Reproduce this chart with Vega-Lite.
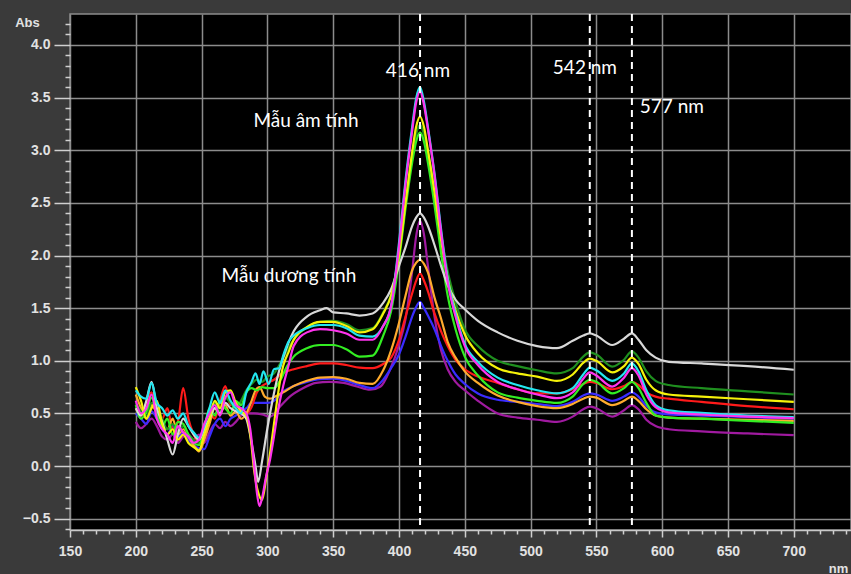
{
"$schema": "https://vega.github.io/schema/vega-lite/v6.json",
"width": 781, "height": 516,
"autosize": {"type": "none"},
"padding": {"left": 70, "top": 14, "right": 0, "bottom": 44},
"background": "#3a3a3a",
"config": {"view": {"fill": "#000000", "stroke": "#8c8c8c", "strokeWidth": 1.5}},
"layer": [
{
"data": {"values": [
{"s":"P","x":200,"y":0.42},{"s":"P","x":204,"y":0.36},{"s":"P","x":208,"y":0.40},{"s":"P","x":212,"y":0.45},{"s":"P","x":216,"y":0.38},{"s":"P","x":220,"y":0.28},{"s":"P","x":224,"y":0.25},{"s":"P","x":228,"y":0.30},{"s":"P","x":232,"y":0.22},{"s":"P","x":236,"y":0.28},{"s":"P","x":240,"y":0.30},{"s":"P","x":244,"y":0.25},{"s":"P","x":248,"y":0.30},{"s":"P","x":252,"y":0.22},{"s":"P","x":256,"y":0.32},{"s":"P","x":260,"y":0.40},{"s":"P","x":264,"y":0.36},{"s":"P","x":268,"y":0.42},{"s":"P","x":272,"y":0.38},{"s":"P","x":276,"y":0.42},{"s":"P","x":280,"y":0.48},{"s":"P","x":284,"y":0.50},{"s":"P","x":290,"y":0.50},{"s":"P","x":296,"y":0.49},{"s":"P","x":302,"y":0.47},{"s":"P","x":310,"y":0.57},{"s":"P","x":317,"y":0.66},{"s":"P","x":327,"y":0.74},{"s":"P","x":337,"y":0.79},{"s":"P","x":347,"y":0.80},{"s":"P","x":358,"y":0.79},{"s":"P","x":368,"y":0.756},{"s":"P","x":378,"y":0.725},{"s":"P","x":386,"y":0.756},{"s":"P","x":393,"y":0.91},{"s":"P","x":400,"y":1.15},{"s":"P","x":405,"y":1.40},{"s":"P","x":410,"y":1.85},{"s":"P","x":413,"y":2.18},{"s":"P","x":416,"y":2.33},{"s":"P","x":419,"y":2.20},{"s":"P","x":422,"y":1.90},{"s":"P","x":427,"y":1.42},{"s":"P","x":432,"y":1.10},{"s":"P","x":437,"y":0.92},{"s":"P","x":443,"y":0.80},{"s":"P","x":450,"y":0.72},{"s":"P","x":460,"y":0.62},{"s":"P","x":475,"y":0.50},{"s":"P","x":490,"y":0.46},{"s":"P","x":505,"y":0.44},{"s":"P","x":520,"y":0.42},{"s":"P","x":532,"y":0.47},{"s":"P","x":540,"y":0.54},{"s":"P","x":545,"y":0.565},{"s":"P","x":550,"y":0.55},{"s":"P","x":562,"y":0.47},{"s":"P","x":571,"y":0.53},{"s":"P","x":577,"y":0.58},{"s":"P","x":582,"y":0.54},{"s":"P","x":588,"y":0.44},{"s":"P","x":595,"y":0.38},{"s":"P","x":605,"y":0.35},{"s":"P","x":630,"y":0.33},{"s":"P","x":665,"y":0.31},{"s":"P","x":700,"y":0.294},
{"s":"B","x":200,"y":0.50},{"s":"B","x":204,"y":0.45},{"s":"B","x":208,"y":0.40},{"s":"B","x":212,"y":0.52},{"s":"B","x":216,"y":0.45},{"s":"B","x":220,"y":0.35},{"s":"B","x":224,"y":0.30},{"s":"B","x":228,"y":0.38},{"s":"B","x":232,"y":0.28},{"s":"B","x":236,"y":0.32},{"s":"B","x":240,"y":0.25},{"s":"B","x":244,"y":0.20},{"s":"B","x":248,"y":0.17},{"s":"B","x":252,"y":0.16},{"s":"B","x":256,"y":0.28},{"s":"B","x":260,"y":0.40},{"s":"B","x":264,"y":0.45},{"s":"B","x":268,"y":0.38},{"s":"B","x":272,"y":0.45},{"s":"B","x":276,"y":0.48},{"s":"B","x":280,"y":0.52},{"s":"B","x":284,"y":0.55},{"s":"B","x":288,"y":0.60},{"s":"B","x":292,"y":0.60},{"s":"B","x":296,"y":0.60},{"s":"B","x":300,"y":0.60},{"s":"B","x":305,"y":0.62},{"s":"B","x":312,"y":0.71},{"s":"B","x":320,"y":0.76},{"s":"B","x":330,"y":0.80},{"s":"B","x":340,"y":0.825},{"s":"B","x":350,"y":0.83},{"s":"B","x":360,"y":0.81},{"s":"B","x":370,"y":0.77},{"s":"B","x":380,"y":0.74},{"s":"B","x":388,"y":0.82},{"s":"B","x":394,"y":0.93},{"s":"B","x":400,"y":1.06},{"s":"B","x":405,"y":1.23},{"s":"B","x":410,"y":1.42},{"s":"B","x":413,"y":1.51},{"s":"B","x":416,"y":1.56},{"s":"B","x":419,"y":1.50},{"s":"B","x":422,"y":1.43},{"s":"B","x":427,"y":1.30},{"s":"B","x":432,"y":1.14},{"s":"B","x":437,"y":1.00},{"s":"B","x":443,"y":0.87},{"s":"B","x":450,"y":0.78},{"s":"B","x":460,"y":0.69},{"s":"B","x":475,"y":0.63},{"s":"B","x":490,"y":0.61},{"s":"B","x":505,"y":0.59},{"s":"B","x":520,"y":0.57},{"s":"B","x":532,"y":0.61},{"s":"B","x":540,"y":0.67},{"s":"B","x":545,"y":0.69},{"s":"B","x":550,"y":0.68},{"s":"B","x":562,"y":0.62},{"s":"B","x":571,"y":0.66},{"s":"B","x":577,"y":0.70},{"s":"B","x":582,"y":0.66},{"s":"B","x":588,"y":0.57},{"s":"B","x":595,"y":0.51},{"s":"B","x":605,"y":0.49},{"s":"B","x":630,"y":0.48},{"s":"B","x":665,"y":0.465},{"s":"B","x":700,"y":0.45},
{"s":"R","x":200,"y":0.55},{"s":"R","x":204,"y":0.48},{"s":"R","x":208,"y":0.60},{"s":"R","x":212,"y":0.70},{"s":"R","x":216,"y":0.50},{"s":"R","x":220,"y":0.45},{"s":"R","x":224,"y":0.55},{"s":"R","x":228,"y":0.35},{"s":"R","x":232,"y":0.42},{"s":"R","x":236,"y":0.74},{"s":"R","x":240,"y":0.45},{"s":"R","x":244,"y":0.30},{"s":"R","x":248,"y":0.22},{"s":"R","x":252,"y":0.30},{"s":"R","x":256,"y":0.50},{"s":"R","x":260,"y":0.45},{"s":"R","x":264,"y":0.62},{"s":"R","x":268,"y":0.76},{"s":"R","x":272,"y":0.58},{"s":"R","x":276,"y":0.60},{"s":"R","x":280,"y":0.52},{"s":"R","x":284,"y":0.50},{"s":"R","x":288,"y":0.56},{"s":"R","x":292,"y":0.70},{"s":"R","x":296,"y":0.76},{"s":"R","x":300,"y":0.79},{"s":"R","x":305,"y":0.82},{"s":"R","x":310,"y":0.87},{"s":"R","x":315,"y":0.90},{"s":"R","x":320,"y":0.92},{"s":"R","x":330,"y":0.95},{"s":"R","x":340,"y":0.975},{"s":"R","x":350,"y":0.975},{"s":"R","x":360,"y":0.96},{"s":"R","x":370,"y":0.935},{"s":"R","x":380,"y":0.93},{"s":"R","x":388,"y":0.97},{"s":"R","x":394,"y":1.03},{"s":"R","x":400,"y":1.20},{"s":"R","x":405,"y":1.42},{"s":"R","x":410,"y":1.64},{"s":"R","x":413,"y":1.76},{"s":"R","x":416,"y":1.83},{"s":"R","x":419,"y":1.76},{"s":"R","x":422,"y":1.66},{"s":"R","x":427,"y":1.45},{"s":"R","x":432,"y":1.28},{"s":"R","x":437,"y":1.14},{"s":"R","x":443,"y":1.01},{"s":"R","x":450,"y":0.92},{"s":"R","x":460,"y":0.85},{"s":"R","x":475,"y":0.79},{"s":"R","x":490,"y":0.73},{"s":"R","x":505,"y":0.69},{"s":"R","x":520,"y":0.69},{"s":"R","x":532,"y":0.73},{"s":"R","x":540,"y":0.78},{"s":"R","x":545,"y":0.80},{"s":"R","x":550,"y":0.79},{"s":"R","x":562,"y":0.73},{"s":"R","x":571,"y":0.76},{"s":"R","x":577,"y":0.80},{"s":"R","x":582,"y":0.77},{"s":"R","x":588,"y":0.70},{"s":"R","x":595,"y":0.66},{"s":"R","x":605,"y":0.64},{"s":"R","x":630,"y":0.61},{"s":"R","x":665,"y":0.57},{"s":"R","x":700,"y":0.54},
{"s":"O","x":200,"y":0.68},{"s":"O","x":204,"y":0.55},{"s":"O","x":208,"y":0.45},{"s":"O","x":212,"y":0.58},{"s":"O","x":216,"y":0.50},{"s":"O","x":220,"y":0.40},{"s":"O","x":224,"y":0.35},{"s":"O","x":228,"y":0.45},{"s":"O","x":232,"y":0.30},{"s":"O","x":236,"y":0.35},{"s":"O","x":240,"y":0.28},{"s":"O","x":244,"y":0.20},{"s":"O","x":248,"y":0.14},{"s":"O","x":252,"y":0.25},{"s":"O","x":256,"y":0.40},{"s":"O","x":260,"y":0.55},{"s":"O","x":264,"y":0.50},{"s":"O","x":268,"y":0.58},{"s":"O","x":272,"y":0.48},{"s":"O","x":276,"y":0.52},{"s":"O","x":280,"y":0.45},{"s":"O","x":284,"y":0.50},{"s":"O","x":288,"y":0.62},{"s":"O","x":291,"y":0.72},{"s":"O","x":294,"y":0.75},{"s":"O","x":298,"y":0.66},{"s":"O","x":302,"y":0.64},{"s":"O","x":306,"y":0.66},{"s":"O","x":312,"y":0.70},{"s":"O","x":320,"y":0.76},{"s":"O","x":330,"y":0.81},{"s":"O","x":340,"y":0.84},{"s":"O","x":350,"y":0.845},{"s":"O","x":360,"y":0.83},{"s":"O","x":370,"y":0.79},{"s":"O","x":380,"y":0.78},{"s":"O","x":388,"y":0.91},{"s":"O","x":394,"y":1.10},{"s":"O","x":400,"y":1.36},{"s":"O","x":405,"y":1.62},{"s":"O","x":410,"y":1.86},{"s":"O","x":413,"y":1.93},{"s":"O","x":416,"y":1.96},{"s":"O","x":419,"y":1.92},{"s":"O","x":422,"y":1.84},{"s":"O","x":427,"y":1.60},{"s":"O","x":432,"y":1.40},{"s":"O","x":437,"y":1.18},{"s":"O","x":443,"y":1.03},{"s":"O","x":450,"y":0.90},{"s":"O","x":460,"y":0.79},{"s":"O","x":475,"y":0.67},{"s":"O","x":490,"y":0.61},{"s":"O","x":505,"y":0.57},{"s":"O","x":520,"y":0.55},{"s":"O","x":532,"y":0.59},{"s":"O","x":540,"y":0.64},{"s":"O","x":545,"y":0.66},{"s":"O","x":550,"y":0.65},{"s":"O","x":562,"y":0.58},{"s":"O","x":571,"y":0.62},{"s":"O","x":577,"y":0.66},{"s":"O","x":582,"y":0.62},{"s":"O","x":588,"y":0.54},{"s":"O","x":595,"y":0.48},{"s":"O","x":605,"y":0.46},{"s":"O","x":630,"y":0.45},{"s":"O","x":665,"y":0.44},{"s":"O","x":700,"y":0.43},
{"s":"D","x":200,"y":0.60},{"s":"D","x":204,"y":0.52},{"s":"D","x":208,"y":0.48},{"s":"D","x":212,"y":0.60},{"s":"D","x":216,"y":0.55},{"s":"D","x":220,"y":0.45},{"s":"D","x":224,"y":0.35},{"s":"D","x":228,"y":0.40},{"s":"D","x":232,"y":0.32},{"s":"D","x":236,"y":0.38},{"s":"D","x":240,"y":0.30},{"s":"D","x":244,"y":0.25},{"s":"D","x":248,"y":0.22},{"s":"D","x":252,"y":0.32},{"s":"D","x":256,"y":0.50},{"s":"D","x":260,"y":0.60},{"s":"D","x":264,"y":0.52},{"s":"D","x":268,"y":0.65},{"s":"D","x":272,"y":0.60},{"s":"D","x":276,"y":0.55},{"s":"D","x":280,"y":0.62},{"s":"D","x":284,"y":0.72},{"s":"D","x":288,"y":0.78},{"s":"D","x":292,"y":0.82},{"s":"D","x":296,"y":0.80},{"s":"D","x":300,"y":0.85},{"s":"D","x":305,"y":0.88},{"s":"D","x":310,"y":0.98},{"s":"D","x":315,"y":1.10},{"s":"D","x":320,"y":1.20},{"s":"D","x":330,"y":1.32},{"s":"D","x":340,"y":1.37},{"s":"D","x":350,"y":1.38},{"s":"D","x":360,"y":1.35},{"s":"D","x":370,"y":1.29},{"s":"D","x":380,"y":1.31},{"s":"D","x":388,"y":1.46},{"s":"D","x":394,"y":1.63},{"s":"D","x":400,"y":2.02},{"s":"D","x":405,"y":2.50},{"s":"D","x":410,"y":2.95},{"s":"D","x":413,"y":3.15},{"s":"D","x":416,"y":3.24},{"s":"D","x":419,"y":3.15},{"s":"D","x":422,"y":2.98},{"s":"D","x":427,"y":2.62},{"s":"D","x":432,"y":2.20},{"s":"D","x":437,"y":1.85},{"s":"D","x":443,"y":1.56},{"s":"D","x":450,"y":1.30},{"s":"D","x":460,"y":1.14},{"s":"D","x":475,"y":1.00},{"s":"D","x":490,"y":0.95},{"s":"D","x":505,"y":0.91},{"s":"D","x":520,"y":0.88},{"s":"D","x":532,"y":0.93},{"s":"D","x":540,"y":1.04},{"s":"D","x":545,"y":1.08},{"s":"D","x":550,"y":1.06},{"s":"D","x":562,"y":0.945},{"s":"D","x":571,"y":1.01},{"s":"D","x":577,"y":1.09},{"s":"D","x":582,"y":1.03},{"s":"D","x":588,"y":0.90},{"s":"D","x":595,"y":0.81},{"s":"D","x":605,"y":0.77},{"s":"D","x":630,"y":0.74},{"s":"D","x":665,"y":0.71},{"s":"D","x":700,"y":0.68},
{"s":"G","x":200,"y":0.58},{"s":"G","x":204,"y":0.45},{"s":"G","x":208,"y":0.52},{"s":"G","x":212,"y":0.65},{"s":"G","x":216,"y":0.50},{"s":"G","x":220,"y":0.38},{"s":"G","x":224,"y":0.45},{"s":"G","x":228,"y":0.30},{"s":"G","x":232,"y":0.42},{"s":"G","x":236,"y":0.40},{"s":"G","x":240,"y":0.30},{"s":"G","x":244,"y":0.22},{"s":"G","x":248,"y":0.20},{"s":"G","x":252,"y":0.35},{"s":"G","x":256,"y":0.55},{"s":"G","x":260,"y":0.48},{"s":"G","x":264,"y":0.62},{"s":"G","x":268,"y":0.55},{"s":"G","x":272,"y":0.50},{"s":"G","x":276,"y":0.62},{"s":"G","x":280,"y":0.58},{"s":"G","x":284,"y":0.70},{"s":"G","x":288,"y":0.74},{"s":"G","x":292,"y":0.72},{"s":"G","x":296,"y":0.75},{"s":"G","x":300,"y":0.74},{"s":"G","x":305,"y":0.74},{"s":"G","x":310,"y":0.82},{"s":"G","x":315,"y":0.95},{"s":"G","x":320,"y":1.04},{"s":"G","x":330,"y":1.12},{"s":"G","x":340,"y":1.15},{"s":"G","x":350,"y":1.15},{"s":"G","x":360,"y":1.11},{"s":"G","x":370,"y":1.04},{"s":"G","x":380,"y":1.05},{"s":"G","x":388,"y":1.24},{"s":"G","x":394,"y":1.47},{"s":"G","x":400,"y":1.95},{"s":"G","x":405,"y":2.45},{"s":"G","x":410,"y":2.88},{"s":"G","x":413,"y":3.08},{"s":"G","x":416,"y":3.17},{"s":"G","x":419,"y":3.08},{"s":"G","x":422,"y":2.88},{"s":"G","x":427,"y":2.48},{"s":"G","x":432,"y":2.02},{"s":"G","x":437,"y":1.62},{"s":"G","x":443,"y":1.30},{"s":"G","x":450,"y":1.04},{"s":"G","x":460,"y":0.86},{"s":"G","x":475,"y":0.70},{"s":"G","x":490,"y":0.65},{"s":"G","x":505,"y":0.62},{"s":"G","x":520,"y":0.60},{"s":"G","x":532,"y":0.66},{"s":"G","x":540,"y":0.78},{"s":"G","x":545,"y":0.82},{"s":"G","x":550,"y":0.80},{"s":"G","x":562,"y":0.69},{"s":"G","x":571,"y":0.74},{"s":"G","x":577,"y":0.80},{"s":"G","x":582,"y":0.74},{"s":"G","x":588,"y":0.60},{"s":"G","x":595,"y":0.48},{"s":"G","x":605,"y":0.46},{"s":"G","x":630,"y":0.45},{"s":"G","x":665,"y":0.43},{"s":"G","x":700,"y":0.41},
{"s":"W","x":200,"y":0.55},{"s":"W","x":204,"y":0.48},{"s":"W","x":208,"y":0.62},{"s":"W","x":212,"y":0.80},{"s":"W","x":216,"y":0.55},{"s":"W","x":220,"y":0.42},{"s":"W","x":224,"y":0.25},{"s":"W","x":228,"y":0.11},{"s":"W","x":232,"y":0.30},{"s":"W","x":236,"y":0.45},{"s":"W","x":240,"y":0.38},{"s":"W","x":244,"y":0.30},{"s":"W","x":248,"y":0.25},{"s":"W","x":252,"y":0.35},{"s":"W","x":256,"y":0.45},{"s":"W","x":260,"y":0.55},{"s":"W","x":264,"y":0.50},{"s":"W","x":268,"y":0.60},{"s":"W","x":272,"y":0.55},{"s":"W","x":276,"y":0.52},{"s":"W","x":280,"y":0.50},{"s":"W","x":284,"y":0.45},{"s":"W","x":288,"y":0.22},{"s":"W","x":291,"y":0.0},{"s":"W","x":293,"y":-0.15},{"s":"W","x":296,"y":0.05},{"s":"W","x":300,"y":0.36},{"s":"W","x":304,"y":0.63},{"s":"W","x":308,"y":0.86},{"s":"W","x":312,"y":1.03},{"s":"W","x":316,"y":1.17},{"s":"W","x":320,"y":1.28},{"s":"W","x":330,"y":1.42},{"s":"W","x":340,"y":1.48},{"s":"W","x":345,"y":1.50},{"s":"W","x":350,"y":1.46},{"s":"W","x":360,"y":1.45},{"s":"W","x":370,"y":1.43},{"s":"W","x":380,"y":1.45},{"s":"W","x":388,"y":1.55},{"s":"W","x":394,"y":1.68},{"s":"W","x":400,"y":1.90},{"s":"W","x":405,"y":2.08},{"s":"W","x":410,"y":2.28},{"s":"W","x":413,"y":2.36},{"s":"W","x":416,"y":2.40},{"s":"W","x":419,"y":2.36},{"s":"W","x":422,"y":2.28},{"s":"W","x":427,"y":2.10},{"s":"W","x":432,"y":1.90},{"s":"W","x":437,"y":1.72},{"s":"W","x":443,"y":1.58},{"s":"W","x":450,"y":1.49},{"s":"W","x":460,"y":1.38},{"s":"W","x":475,"y":1.27},{"s":"W","x":490,"y":1.19},{"s":"W","x":505,"y":1.14},{"s":"W","x":520,"y":1.12},{"s":"W","x":532,"y":1.19},{"s":"W","x":540,"y":1.24},{"s":"W","x":545,"y":1.26},{"s":"W","x":550,"y":1.24},{"s":"W","x":562,"y":1.15},{"s":"W","x":571,"y":1.21},{"s":"W","x":577,"y":1.26},{"s":"W","x":582,"y":1.20},{"s":"W","x":588,"y":1.10},{"s":"W","x":595,"y":1.03},{"s":"W","x":605,"y":0.99},{"s":"W","x":630,"y":0.975},{"s":"W","x":665,"y":0.95},{"s":"W","x":700,"y":0.915},
{"s":"Y","x":200,"y":0.75},{"s":"Y","x":204,"y":0.62},{"s":"Y","x":208,"y":0.45},{"s":"Y","x":212,"y":0.55},{"s":"Y","x":216,"y":0.62},{"s":"Y","x":220,"y":0.40},{"s":"Y","x":224,"y":0.30},{"s":"Y","x":228,"y":0.35},{"s":"Y","x":232,"y":0.25},{"s":"Y","x":236,"y":0.30},{"s":"Y","x":240,"y":0.22},{"s":"Y","x":244,"y":0.18},{"s":"Y","x":248,"y":0.15},{"s":"Y","x":252,"y":0.30},{"s":"Y","x":256,"y":0.45},{"s":"Y","x":260,"y":0.62},{"s":"Y","x":264,"y":0.55},{"s":"Y","x":268,"y":0.70},{"s":"Y","x":272,"y":0.72},{"s":"Y","x":276,"y":0.60},{"s":"Y","x":280,"y":0.52},{"s":"Y","x":284,"y":0.48},{"s":"Y","x":287,"y":0.30},{"s":"Y","x":290,"y":-0.05},{"s":"Y","x":293,"y":-0.25},{"s":"Y","x":296,"y":-0.32},{"s":"Y","x":299,"y":-0.12},{"s":"Y","x":302,"y":0.12},{"s":"Y","x":305,"y":0.40},{"s":"Y","x":309,"y":0.76},{"s":"Y","x":312,"y":0.95},{"s":"Y","x":316,"y":1.08},{"s":"Y","x":320,"y":1.20},{"s":"Y","x":330,"y":1.32},{"s":"Y","x":340,"y":1.37},{"s":"Y","x":350,"y":1.37},{"s":"Y","x":360,"y":1.33},{"s":"Y","x":370,"y":1.27},{"s":"Y","x":380,"y":1.30},{"s":"Y","x":388,"y":1.45},{"s":"Y","x":394,"y":1.62},{"s":"Y","x":400,"y":2.00},{"s":"Y","x":405,"y":2.50},{"s":"Y","x":410,"y":2.98},{"s":"Y","x":413,"y":3.22},{"s":"Y","x":416,"y":3.32},{"s":"Y","x":419,"y":3.22},{"s":"Y","x":422,"y":3.00},{"s":"Y","x":427,"y":2.60},{"s":"Y","x":432,"y":2.15},{"s":"Y","x":437,"y":1.78},{"s":"Y","x":443,"y":1.48},{"s":"Y","x":450,"y":1.25},{"s":"Y","x":460,"y":1.07},{"s":"Y","x":475,"y":0.93},{"s":"Y","x":490,"y":0.88},{"s":"Y","x":505,"y":0.85},{"s":"Y","x":520,"y":0.81},{"s":"Y","x":532,"y":0.87},{"s":"Y","x":540,"y":0.98},{"s":"Y","x":545,"y":1.02},{"s":"Y","x":550,"y":1.00},{"s":"Y","x":562,"y":0.89},{"s":"Y","x":571,"y":0.95},{"s":"Y","x":577,"y":1.03},{"s":"Y","x":582,"y":0.97},{"s":"Y","x":588,"y":0.82},{"s":"Y","x":595,"y":0.72},{"s":"Y","x":605,"y":0.68},{"s":"Y","x":630,"y":0.66},{"s":"Y","x":665,"y":0.635},{"s":"Y","x":700,"y":0.61},
{"s":"C","x":200,"y":0.72},{"s":"C","x":204,"y":0.66},{"s":"C","x":208,"y":0.64},{"s":"C","x":212,"y":0.79},{"s":"C","x":216,"y":0.60},{"s":"C","x":220,"y":0.55},{"s":"C","x":224,"y":0.48},{"s":"C","x":228,"y":0.53},{"s":"C","x":232,"y":0.45},{"s":"C","x":236,"y":0.50},{"s":"C","x":240,"y":0.38},{"s":"C","x":244,"y":0.32},{"s":"C","x":248,"y":0.27},{"s":"C","x":252,"y":0.38},{"s":"C","x":256,"y":0.55},{"s":"C","x":260,"y":0.70},{"s":"C","x":264,"y":0.60},{"s":"C","x":268,"y":0.72},{"s":"C","x":272,"y":0.62},{"s":"C","x":276,"y":0.55},{"s":"C","x":280,"y":0.50},{"s":"C","x":284,"y":0.70},{"s":"C","x":288,"y":0.80},{"s":"C","x":291,"y":0.88},{"s":"C","x":294,"y":0.78},{"s":"C","x":297,"y":0.90},{"s":"C","x":301,"y":0.78},{"s":"C","x":305,"y":0.92},{"s":"C","x":309,"y":0.93},{"s":"C","x":312,"y":1.05},{"s":"C","x":316,"y":1.18},{"s":"C","x":320,"y":1.24},{"s":"C","x":330,"y":1.31},{"s":"C","x":340,"y":1.34},{"s":"C","x":350,"y":1.34},{"s":"C","x":360,"y":1.31},{"s":"C","x":370,"y":1.24},{"s":"C","x":380,"y":1.23},{"s":"C","x":388,"y":1.33},{"s":"C","x":394,"y":1.52},{"s":"C","x":400,"y":2.12},{"s":"C","x":405,"y":2.72},{"s":"C","x":410,"y":3.22},{"s":"C","x":413,"y":3.49},{"s":"C","x":416,"y":3.60},{"s":"C","x":419,"y":3.46},{"s":"C","x":422,"y":3.22},{"s":"C","x":427,"y":2.78},{"s":"C","x":432,"y":2.25},{"s":"C","x":437,"y":1.78},{"s":"C","x":443,"y":1.45},{"s":"C","x":450,"y":1.16},{"s":"C","x":460,"y":0.99},{"s":"C","x":475,"y":0.84},{"s":"C","x":490,"y":0.77},{"s":"C","x":505,"y":0.72},{"s":"C","x":520,"y":0.69},{"s":"C","x":532,"y":0.74},{"s":"C","x":540,"y":0.87},{"s":"C","x":545,"y":0.935},{"s":"C","x":550,"y":0.91},{"s":"C","x":562,"y":0.81},{"s":"C","x":571,"y":0.88},{"s":"C","x":577,"y":0.975},{"s":"C","x":582,"y":0.90},{"s":"C","x":588,"y":0.72},{"s":"C","x":595,"y":0.58},{"s":"C","x":605,"y":0.53},{"s":"C","x":630,"y":0.505},{"s":"C","x":665,"y":0.48},{"s":"C","x":700,"y":0.465},
{"s":"M","x":200,"y":0.62},{"s":"M","x":204,"y":0.50},{"s":"M","x":208,"y":0.55},{"s":"M","x":212,"y":0.68},{"s":"M","x":216,"y":0.45},{"s":"M","x":220,"y":0.35},{"s":"M","x":224,"y":0.30},{"s":"M","x":228,"y":0.22},{"s":"M","x":232,"y":0.38},{"s":"M","x":236,"y":0.32},{"s":"M","x":240,"y":0.28},{"s":"M","x":244,"y":0.22},{"s":"M","x":248,"y":0.25},{"s":"M","x":252,"y":0.40},{"s":"M","x":256,"y":0.50},{"s":"M","x":260,"y":0.58},{"s":"M","x":264,"y":0.48},{"s":"M","x":268,"y":0.65},{"s":"M","x":272,"y":0.70},{"s":"M","x":276,"y":0.58},{"s":"M","x":280,"y":0.55},{"s":"M","x":284,"y":0.50},{"s":"M","x":287,"y":0.35},{"s":"M","x":290,"y":0.00},{"s":"M","x":292,"y":-0.25},{"s":"M","x":294,"y":-0.38},{"s":"M","x":296,"y":-0.30},{"s":"M","x":299,"y":-0.10},{"s":"M","x":302,"y":0.06},{"s":"M","x":305,"y":0.28},{"s":"M","x":308,"y":0.52},{"s":"M","x":312,"y":0.76},{"s":"M","x":316,"y":0.95},{"s":"M","x":320,"y":1.14},{"s":"M","x":330,"y":1.27},{"s":"M","x":340,"y":1.30},{"s":"M","x":350,"y":1.29},{"s":"M","x":360,"y":1.26},{"s":"M","x":370,"y":1.20},{"s":"M","x":380,"y":1.20},{"s":"M","x":388,"y":1.33},{"s":"M","x":394,"y":1.52},{"s":"M","x":400,"y":2.08},{"s":"M","x":405,"y":2.68},{"s":"M","x":410,"y":3.18},{"s":"M","x":413,"y":3.45},{"s":"M","x":416,"y":3.56},{"s":"M","x":419,"y":3.43},{"s":"M","x":422,"y":3.20},{"s":"M","x":427,"y":2.76},{"s":"M","x":432,"y":2.22},{"s":"M","x":437,"y":1.75},{"s":"M","x":443,"y":1.42},{"s":"M","x":450,"y":1.14},{"s":"M","x":460,"y":0.96},{"s":"M","x":475,"y":0.80},{"s":"M","x":490,"y":0.73},{"s":"M","x":505,"y":0.68},{"s":"M","x":520,"y":0.645},{"s":"M","x":532,"y":0.70},{"s":"M","x":540,"y":0.83},{"s":"M","x":545,"y":0.89},{"s":"M","x":550,"y":0.86},{"s":"M","x":562,"y":0.755},{"s":"M","x":571,"y":0.84},{"s":"M","x":577,"y":0.93},{"s":"M","x":582,"y":0.86},{"s":"M","x":588,"y":0.68},{"s":"M","x":595,"y":0.56},{"s":"M","x":605,"y":0.51},{"s":"M","x":630,"y":0.49},{"s":"M","x":665,"y":0.47},{"s":"M","x":700,"y":0.455}
]},
"mark": {"type": "line", "strokeWidth": 2.2, "interpolate": "monotone", "clip": true},
"encoding": {
"x": {"field": "x", "type": "quantitative",
 "scale": {"domain": [150, 743.5], "nice": false, "zero": false},
 "axis": {"values": [150,160,170,180,190,200,210,220,230,240,250,260,270,280,290,300,310,320,330,340,350,360,370,380,390,400,410,420,430,440,450,460,470,480,490,500,510,520,530,540,550,560,570,580,590,600,610,620,630,640,650,660,670,680,690,700,710,720,730,740],
  "tickCount": 1000,
  "format": "d",
  "labelExpr": "datum.value % 50 === 0 ? datum.label : ''",
  "labelOverlap": false, "labelFlush": false,
  "labelFont": "Liberation Sans", "labelFontWeight": "bold", "labelFontSize": 14, "labelColor": "#e2e2e2", "labelPadding": 7,
  "tickColor": "#d0d0d0", "tickWidth": 1.5,
  "tickSize": {"condition": {"test": "datum.value % 50 === 0", "value": 7}, "value": 4},
  "domain": true, "domainColor": "#c8c8c8", "domainWidth": 1.5,
  "grid": true, "gridColor": "#8c8c8c", "gridWidth": 1.5,
  "gridOpacity": {"condition": {"test": "datum.value % 50 === 0", "value": 1}, "value": 0},
  "title": "nm", "titleFont": "Liberation Sans", "titleFontWeight": "bold", "titleFontSize": 13, "titleColor": "#e2e2e2",
  "titleX": 768, "titleY": 38, "titleAlign": "center", "titleBaseline": "middle", "titleAnchor": null}},
"y": {"field": "y", "type": "quantitative",
 "scale": {"domain": [-0.607, 4.294], "nice": false, "zero": false},
 "axis": {"values": [-0.6,-0.5,-0.4,-0.3,-0.2,-0.1,0,0.1,0.2,0.3,0.4,0.5,0.6,0.7,0.8,0.9,1,1.1,1.2,1.3,1.4,1.5,1.6,1.7,1.8,1.9,2,2.1,2.2,2.3,2.4,2.5,2.6,2.7,2.8,2.9,3,3.1,3.2,3.3,3.4,3.5,3.6,3.7,3.8,3.9,4,4.1,4.2],
  "tickCount": 1000,
  "format": ".1f",
  "labelExpr": "abs(datum.value*2 - round(datum.value*2)) < 0.001 ? datum.label : ''",
  "labelOverlap": false, "labelFlush": false,
  "labelFont": "Liberation Sans", "labelFontWeight": "bold", "labelFontSize": 14, "labelColor": "#e2e2e2", "labelPadding": 4,
  "tickColor": "#d0d0d0", "tickWidth": 1.5,
  "tickSize": {"condition": {"test": "abs(datum.value*2 - round(datum.value*2)) < 0.001", "value": 16}, "value": 5},
  "domain": false,
  "grid": true, "gridColor": "#8c8c8c", "gridWidth": 1.5,
  "gridOpacity": {"condition": {"test": "abs(datum.value*2 - round(datum.value*2)) < 0.001", "value": 1}, "value": 0},
  "title": "Abs", "titleAngle": 0, "titleFont": "Liberation Sans", "titleFontWeight": "bold", "titleFontSize": 13, "titleColor": "#e2e2e2",
  "titleX": -43, "titleY": 8, "titleAlign": "center", "titleBaseline": "middle", "titleAnchor": null}},
"color": {"field": "s", "type": "nominal", "legend": null,
 "scale": {"domain": ["P","B","R","O","D","G","W","Y","C","M"],
  "range": ["#a01aa0","#3a2cff","#ff1a1a","#ffab2e","#1f8f1f","#33ee22","#d8d8d8","#f5f20a","#22e6f0","#ff33ee"]}}
}
},
{
"data": {"values": [{"x": 416}, {"x": 545}, {"x": 577}]},
"mark": {"type": "rule", "color": "#ffffff", "strokeWidth": 2, "strokeDash": [7, 5]},
"encoding": {"x": {"field": "x", "type": "quantitative"}}
},
{
"data": {"values": [
{"t": "416 nm", "x": 414.4, "y": 3.75},
{"t": "542 nm", "x": 541.3, "y": 3.78},
{"t": "577 nm", "x": 607.4, "y": 3.41},
{"t": "Mẫu âm tính", "x": 329.3, "y": 3.28},
{"t": "Mẫu dương tính", "x": 316.4, "y": 1.805}
]},
"mark": {"type": "text", "font": "Lato", "fontSize": 19, "color": "#ffffff", "align": "center", "baseline": "middle"},
"encoding": {
"x": {"field": "x", "type": "quantitative"},
"y": {"field": "y", "type": "quantitative"},
"text": {"field": "t"}
}
}
]
}
